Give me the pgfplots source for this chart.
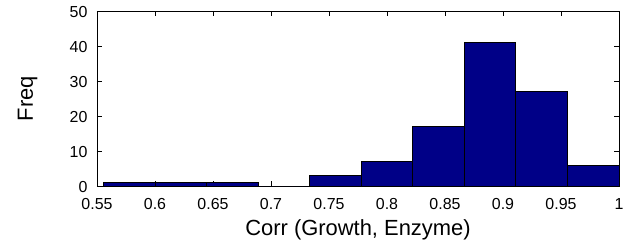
\documentclass[border=0pt]{standalone}
\usepackage{fontspec}
\setmainfont{Liberation Sans}
\usepackage{pgfplots}
\pgfplotsset{compat=1.18}
\definecolor{barblue}{rgb}{0,0,0.53}
\begin{document}
\begin{tikzpicture}
\begin{axis}[
  scale only axis,
  width=522bp, height=175bp,
  xmin=0.55, xmax=1, ymin=0, ymax=50,
  xtick={0.55,0.6,0.65,0.7,0.75,0.8,0.85,0.9,0.95,1},
  xticklabels={0.55,0.6,0.65,0.7,0.75,0.8,0.85,0.9,0.95,1},
  ytick={0,10,20,30,40,50},
  tick align=inside,
  major tick length=5bp,
  tick style={black, line width=0.6pt},
  axis line style={black, line width=1pt},
  ticklabel style={font=\fontsize{16}{18}\selectfont},
  xticklabel style={yshift=-9bp},
  yticklabel style={xshift=-6bp, yshift=-1.5bp},
  /pgf/number format/assume math mode=true,
  xlabel={Corr (Growth, Enzyme)},
  ylabel={Freq},
  label style={font=\fontsize{22}{24}\selectfont},
  xlabel style={at={(axis description cs:0.5,-0.28)}, anchor=base},
  ylabel style={at={(axis description cs:-0.1226,0.5)}, anchor=base},
  clip=false,
]
\addplot[ybar interval, fill=barblue, draw=black, line width=0.8pt] coordinates {
(0.5555,1) (0.59995,1) (0.6444,1) (0.68885,0) (0.7333,3) (0.77775,7)
(0.8222,17) (0.86665,41) (0.9111,27) (0.95555,6) (1.0,6)
};
\end{axis}
\path (current axis.south west) ++(-97bp,-63bp) coordinate (bbA);
\path (current axis.north east) ++(20bp,11bp) coordinate (bbB);
\path (bbA) rectangle (bbB);
\end{tikzpicture}
\end{document}
